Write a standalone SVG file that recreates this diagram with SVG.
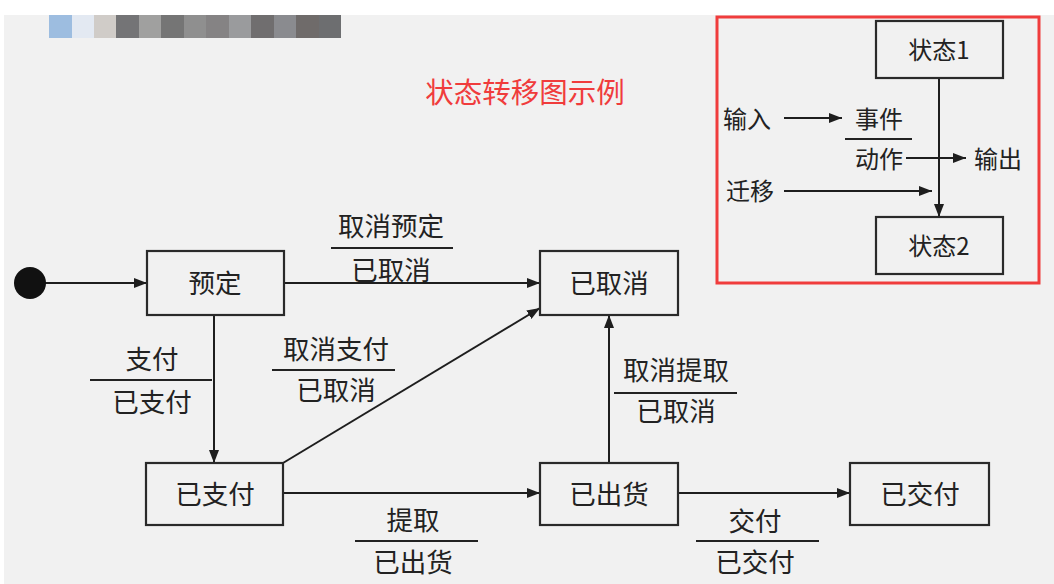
<svg xmlns="http://www.w3.org/2000/svg" width="1054" height="584" viewBox="0 0 1054 584">
<defs>
<marker id="ah" viewBox="0 0 13 10" refX="13" refY="5" markerWidth="13" markerHeight="10" markerUnits="userSpaceOnUse" orient="auto">
<path d="M0,0 L13,5 L0,10 Z" fill="#1e1e1e"/>
</marker>
<style>
.bx{fill:none;stroke:#2a2a2a;stroke-width:2.2}
.t{font-family:"Noto Sans CJK SC","Noto Sans",sans-serif;fill:#222;text-anchor:middle;dominant-baseline:central}
.m{font-size:26.5px}
.l{font-size:24px}
.c{fill:none;stroke:#1e1e1e;stroke-width:2}
.ca{fill:none;stroke:#1e1e1e;stroke-width:2;marker-end:url(#ah)}
.u{stroke:#222;stroke-width:2}
</style>
</defs>
<rect x="0" y="0" width="1054" height="584" fill="#ffffff"/>
<rect x="4" y="15" width="1050" height="569" fill="#f1f1f1"/>
<g id="mosaic">
<rect x="49" y="15" width="23" height="23" fill="#9dbde0"/>
<rect x="72" y="15" width="22" height="23" fill="#e3e9f2"/>
<rect x="94" y="15" width="22" height="23" fill="#d0ccc8"/>
<rect x="116" y="15" width="23" height="23" fill="#747476"/>
<rect x="139" y="15" width="22" height="23" fill="#a0a09f"/>
<rect x="161" y="15" width="23" height="23" fill="#757575"/>
<rect x="184" y="15" width="22" height="23" fill="#8f8f8f"/>
<rect x="206" y="15" width="23" height="23" fill="#858384"/>
<rect x="229" y="15" width="22" height="23" fill="#9a9b9d"/>
<rect x="251" y="15" width="23" height="23" fill="#706e6f"/>
<rect x="274" y="15" width="22" height="23" fill="#8a8b8f"/>
<rect x="296" y="15" width="23" height="23" fill="#6f6b6a"/>
<rect x="319" y="15" width="22" height="23" fill="#6d6e70"/>
</g>
<text class="t" x="525" y="90" font-size="28.5" style="fill:#f03c3c">状态转移图示例</text>

<g id="connectors">
<line class="ca" x1="45" y1="283" x2="147" y2="283"/>
<line class="ca" x1="284" y1="283" x2="540" y2="283"/>
<line class="ca" x1="214" y1="315" x2="214" y2="463"/>
<line class="ca" x1="283" y1="463" x2="540" y2="308"/>
<line class="ca" x1="283" y1="493" x2="540" y2="493"/>
<line class="ca" x1="609" y1="463" x2="609" y2="315"/>
<line class="ca" x1="678" y1="493" x2="850" y2="493"/>
<line class="u" x1="331" y1="248" x2="453" y2="248"/>
<line class="u" x1="272" y1="370" x2="395" y2="370"/>
<line class="u" x1="90" y1="380" x2="212" y2="380"/>
<line class="u" x1="355" y1="541" x2="478" y2="541"/>
<line class="u" x1="614" y1="393" x2="737" y2="393"/>
<line class="u" x1="696" y1="541" x2="819" y2="541"/>
</g>
<g id="labels">
<text class="t m" x="391" y="224">取消预定</text>
<text class="t m" x="391" y="268">已取消</text>
<text class="t m" x="336" y="347">取消支付</text>
<text class="t m" x="336" y="388">已取消</text>
<text class="t m" x="152" y="357">支付</text>
<text class="t m" x="152" y="400">已支付</text>
<text class="t m" x="413" y="518">提取</text>
<text class="t m" x="413" y="560">已出货</text>
<text class="t m" x="676" y="368">取消提取</text>
<text class="t m" x="676" y="409">已取消</text>
<text class="t m" x="755" y="519">交付</text>
<text class="t m" x="755" y="560">已交付</text>
</g>

<g id="start"><circle cx="30" cy="283" r="16" fill="#111"/></g>
<g id="node-yuding"><rect class="bx" x="147" y="251" width="137" height="64"/><text class="t m" x="215" y="281">预定</text></g>
<g id="node-yiquxiao"><rect class="bx" x="540" y="251" width="138" height="64"/><text class="t m" x="609" y="281">已取消</text></g>
<g id="node-yizhifu"><rect class="bx" x="146" y="463" width="137" height="62"/><text class="t m" x="215" y="492">已支付</text></g>
<g id="node-yichuhuo"><rect class="bx" x="540" y="463" width="138" height="62"/><text class="t m" x="609" y="492">已出货</text></g>
<g id="node-yijiaofu"><rect class="bx" x="850" y="463" width="139" height="62"/><text class="t m" x="920" y="492">已交付</text></g>

<g id="legend">
<rect x="717" y="17" width="322" height="266" fill="none" stroke="#f03c3c" stroke-width="3"/>
<g id="legend-connectors">
<line class="ca" x1="939" y1="78" x2="939" y2="217"/>
<line class="ca" x1="784" y1="118" x2="842" y2="118"/>
<line class="ca" x1="906" y1="158" x2="966" y2="158"/>
<line class="ca" x1="784" y1="191" x2="932" y2="191"/>
<line class="u" x1="845" y1="139" x2="912" y2="139"/>
</g>
<g id="state1"><rect class="bx" x="876" y="21" width="127" height="57"/><text class="t l" x="939" y="48">状态1</text></g>
<g id="state2"><rect class="bx" x="876" y="217" width="127" height="57"/><text class="t l" x="939" y="244">状态2</text></g>
<text class="t l" x="747" y="117">输入</text>
<text class="t l" x="879" y="117">事件</text>
<text class="t l" x="879" y="157">动作</text>
<text class="t l" x="998" y="157">输出</text>
<text class="t l" x="750" y="189">迁移</text>
</g>
</svg>
